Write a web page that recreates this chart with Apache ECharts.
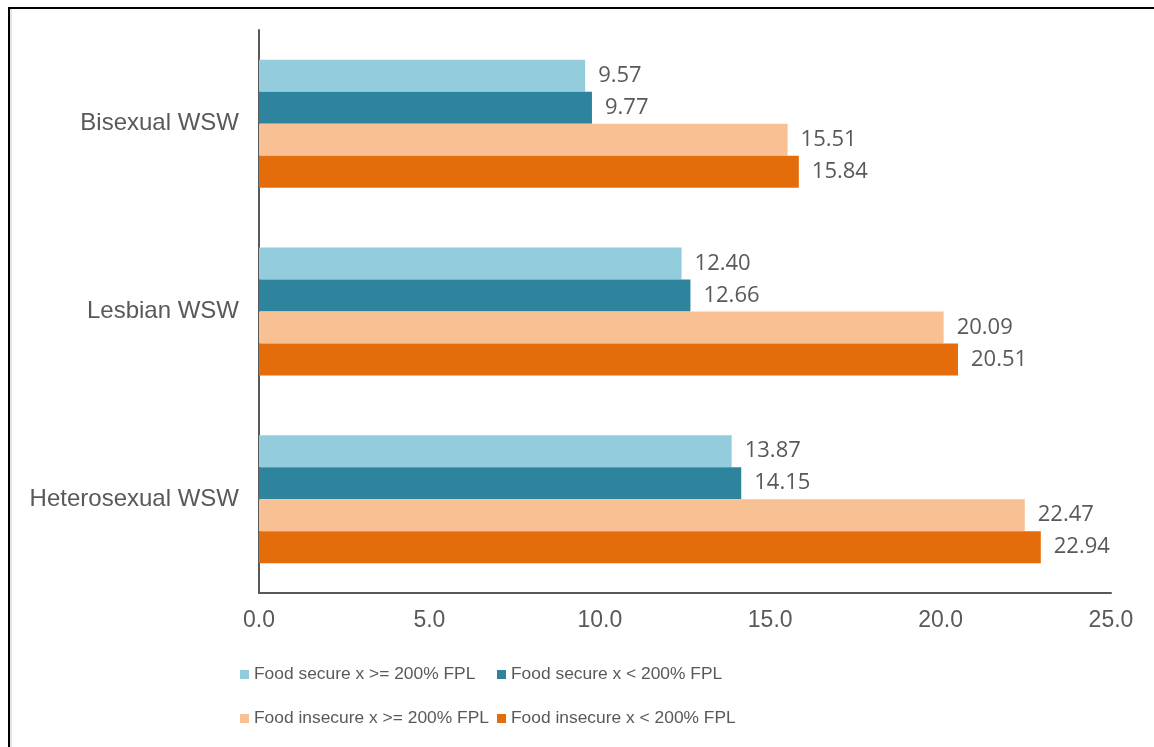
<!DOCTYPE html>
<html>
<head>
<meta charset="utf-8">
<script src="https://cdn.jsdelivr.net/npm/echarts@6/dist/echarts.min.js"></script>
<style>
  html, body { margin: 0; padding: 0; background: #fff; }
  #chart { width: 1154px; height: 747px; }
  #frame {
    position: absolute; left: 8px; top: 7px; right: 0; bottom: 0;
    border-top: 2px solid #000; border-left: 2px solid #000;
    box-shadow: inset 2px 0 0 #e3e3e3;
    pointer-events: none;
  }
</style>
</head>
<body>
<div id="chart"></div>
<div id="frame"></div>
<script>
let categories = ["Bisexual WSW", "Lesbian WSW", "Heterosexual WSW"]
let seriesNames = [
    "Food secure x >= 200% FPL",
    "Food secure x < 200% FPL",
    "Food insecure x >= 200% FPL",
    "Food insecure x < 200% FPL"
]
let secureHigh = [9.57, 12.40, 13.87]
let secureLow = [9.77, 12.66, 14.15]
let insecureHigh = [15.51, 20.09, 22.47]
let insecureLow = [15.84, 20.51, 22.94]
let xTicks = [0, 5, 10, 15, 20, 25]

let colors = ["#93CCDD", "#2E849C", "#F9C193", "#E46C0B"]
let gray = "#595959"
let armFont = "'Liberation Sans', Arial, sans-serif"

let chart = echarts.init(document.getElementById("chart"))

let makeSeries = function (name, values, i) {
    return {
        name: name,
        type: "bar",
        data: values,
        barWidth: 32,
        barGap: "0%",
        itemStyle: {color: colors[i]},
        label: {
            show: true,
            position: "right",
            distance: 13,
            color: gray,
            fontSize: 22,
            fontFamily: "'Open Sans', sans-serif",
            formatter: function (p) {
                return p.value.toFixed(2)
            }
        }
    }
}

// one legend per entry so the two columns line up like the original
let legendSlots = [[240, 666], [497, 666], [240, 710], [497, 710]]
let makeLegend = function (name, i) {
    return {
        data: [name],
        left: legendSlots[i][0],
        top: legendSlots[i][1],
        padding: 0,
        itemWidth: 9,
        itemHeight: 9,
        icon: "rect",
        textStyle: {color: gray, fontSize: 17.4, fontFamily: armFont}
    }
}

let option = {
    animation: false,
    grid: {left: 259, right: 43, top: 30, bottom: 154},
    xAxis: {
        type: "value",
        min: xTicks[0],
        max: xTicks[xTicks.length - 1],
        interval: 5,
        splitLine: {show: false},
        axisLine: {show: true, lineStyle: {color: "#595959", width: 2}},
        axisTick: {show: false},
        axisLabel: {
            color: gray,
            fontSize: 23,
            fontFamily: armFont,
            margin: 16,
            formatter: function (v) {
                return v.toFixed(1)
            }
        }
    },
    yAxis: {
        type: "category",
        data: categories,
        inverse: true,
        axisLine: {show: true, lineStyle: {color: "#595959", width: 2}},
        axisTick: {show: false},
        axisLabel: {
            color: gray,
            fontSize: 24,
            fontFamily: armFont,
            margin: 20
        }
    },
    legend: seriesNames.map(makeLegend),
    series: [
        makeSeries(seriesNames[0], secureHigh, 0),
        makeSeries(seriesNames[1], secureLow, 1),
        makeSeries(seriesNames[2], insecureHigh, 2),
        makeSeries(seriesNames[3], insecureLow, 3)
    ]
}

chart.setOption(option)
</script>
</body>
</html>
